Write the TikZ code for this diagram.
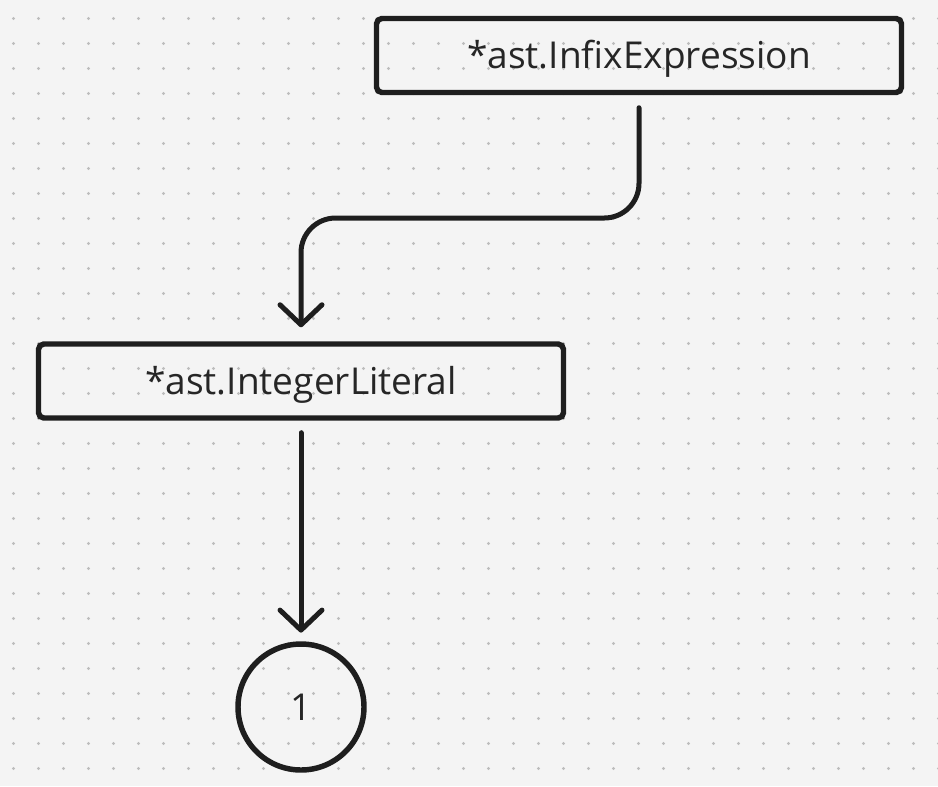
\documentclass[tikz,border=0pt]{standalone}
\usepackage{fontspec}
\setmainfont{Open Sans}
\usetikzlibrary{arrows.meta}
\definecolor{bg}{HTML}{F4F4F4}
\definecolor{dotc}{HTML}{BDBDBD}
\definecolor{ink}{HTML}{1E1E1E}
\definecolor{txt}{HTML}{262626}
\tikzset{
  box/.style={draw=ink, line width=4.1pt, rounded corners=4pt,
    minimum width=393.75pt, minimum height=55.5pt, inner sep=0pt,
    text=txt, font=\fontsize{27.8}{32}\selectfont,
    text height=19.5pt, text depth=0pt},
  circ/.style={draw=ink, circle, line width=4.1pt, minimum size=94.5pt,
    inner sep=0pt, text=txt, font=\fontsize{27.8}{32}\selectfont,
    text height=19.5pt, text depth=0pt},
  conn/.style={draw=ink, line width=3.75pt, line cap=round, line join=round,
    -{Straight Barb[length=15pt, width=31.5pt, round]}}
}
\begin{document}
\begin{tikzpicture}[x=0.75pt, y=-0.75pt]
\fill[bg] (0,0) rectangle (938,786);
\useasboundingbox (0,0) rectangle (938,786);
\foreach \i in {0,...,37}{
  \foreach \j in {0,...,30}{
    \fill[dotc] (13.5+25*\i, 18.5+25*\j) circle (1.15pt);
  }
}
\node[box] (infix) at (639,55.5) {*ast.InfixExpression};
\node[box] (intlit) at (301,381) {*ast.IntegerLiteral};
\node[circ] (one) at (301,707) {1};
\coordinate (mid) at (0,218);
\draw[conn, rounded corners=26pt, shorten <=9.4pt, shorten >=10.5pt]
  (infix.south) -- (infix.south |- mid) -- (intlit.north |- mid) -- (intlit.north);
\draw[conn, shorten <=9pt, shorten >=6.5pt] (intlit.south) -- (one.north);
\end{tikzpicture}
\end{document}
